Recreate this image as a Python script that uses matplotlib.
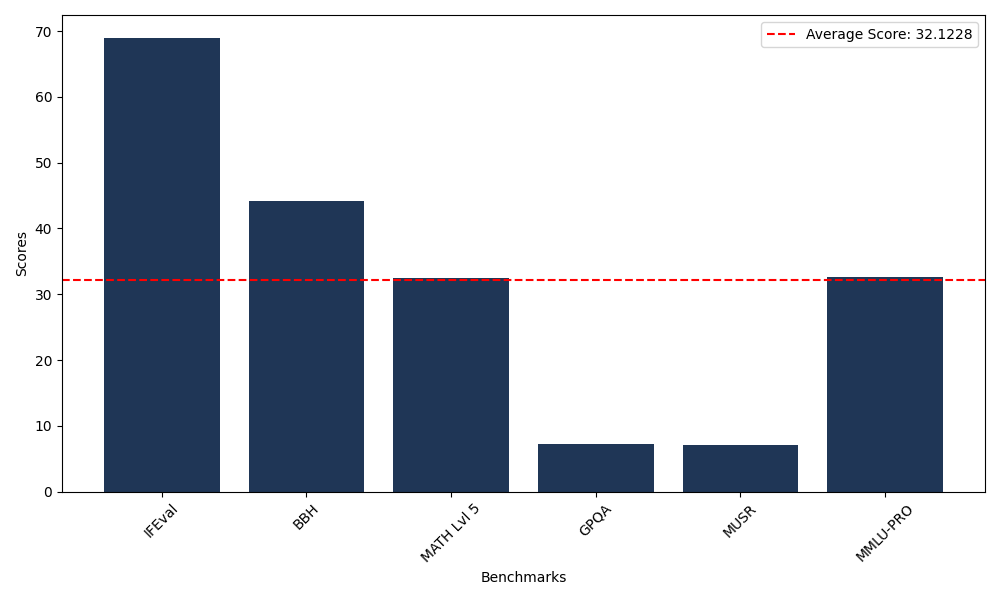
import matplotlib
matplotlib.use("Agg")
import matplotlib.pyplot as plt

benchmarks = ["IFEval", "BBH", "MATH Lvl 5", "GPQA", "MUSR", "MMLU-PRO"]
scores = [69.0, 44.2, 32.5, 7.3, 7.1, 32.6]
average_score = 32.1228

fig, ax = plt.subplots(figsize=(10, 6), dpi=100)
ax.bar(benchmarks, scores, color="#1f3656")
ax.axhline(average_score, color="red", linestyle="--", label=f"Average Score: {average_score}")
ax.set_xlabel("Benchmarks")
ax.set_ylabel("Scores")
plt.xticks(rotation=45)
ax.legend(loc="upper right")
fig.tight_layout()
fig.savefig("out.png")
